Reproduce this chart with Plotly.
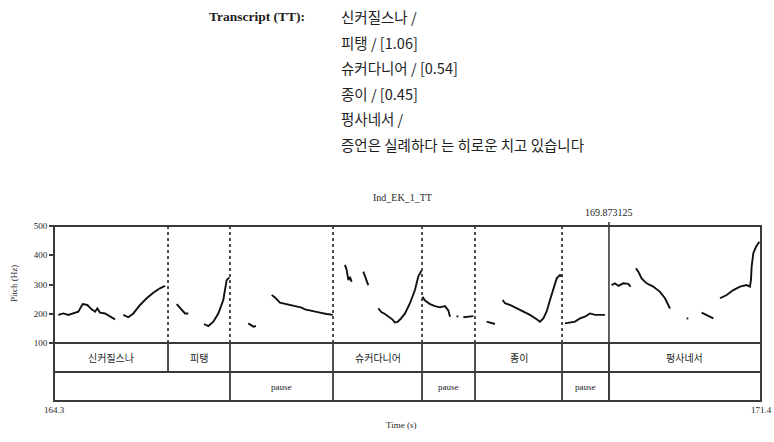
import plotly.graph_objects as go

# ---- time span and cursor -------------------------------------------------
T_START, T_END = 164.3, 171.4
CURSOR = 169.873125

# ---- pitch track (s, Hz); None marks unvoiced gaps ------------------------
pitch_time = [
    164.343, 164.394, 164.444, 164.494, 164.544, 164.588, 164.635, 164.678, 164.712,
    164.735, 164.762, 164.812, 164.862, 164.913, None,
    164.996, 165.046, 165.097, 165.164, 165.231, 165.297, 165.364, 165.415, None,
    165.532, 165.582, 165.616, 165.649, None,
    165.806, 165.850, 165.900, 165.950, 166.000, 166.034, 166.061, None,
    166.251, 166.302, 166.328, None,
    166.486, 166.519, 166.569, 166.636, 166.670, 166.703, 166.753, 166.787, 166.820,
    166.887, 166.971, 167.038, 167.100, None,
    167.222, 167.239, 167.256, 167.272, 167.289, None,
    167.406, 167.439, 167.456, None,
    167.557, 167.590, 167.620, 167.660, 167.700, 167.724, 167.750, 167.780, 167.825,
    167.875, 167.925, 167.958, 167.975, 167.990, None,
    168.000, 168.026, 168.076, 168.126, 168.176, 168.226, 168.260, 168.277, None,
    168.343, 168.360, None,
    168.411, 168.461, 168.511, None,
    168.645, 168.695, 168.728, None,
    168.805, 168.829, 168.879, 168.946, 169.013, 169.080, 169.147, 169.180, 169.214,
    169.247, 169.281, 169.314, 169.348, 169.381, 169.398, None,
    169.431, 169.482, 169.532, 169.582, 169.632, 169.682, 169.733, 169.783, 169.833, None,
    169.900, 169.933, 169.967, 170.017, 170.067, 170.091, None,
    170.144, 170.168, 170.201, 170.251, 170.318, 170.385, 170.436, 170.486, None,
    170.653, 170.670, None,
    170.804, 170.854, 170.921, None,
    170.988, 171.055, 171.122, 171.189, 171.256, 171.289, 171.299, 171.306, 171.323,
    171.350, 171.383,
]
pitch_hz = [
    196, 201, 196, 201, 207, 233, 230, 215, 207,
    218, 204, 201, 192, 181, None,
    196, 188, 201, 230, 253, 272, 287, 295, None,
    233, 213, 201, 201, None,
    165, 158, 173, 201, 247, 315, 324, None,
    167, 156, 158, None,
    264, 256, 238, 233, 230, 226, 222, 221, 215,
    209, 204, 199, 196, None,
    367, 350, 315, 326, 309, None,
    344, 315, 298, None,
    218, 205, 200, 190, 180, 170, 172, 182, 201,
    236, 281, 327, 338, 347, None,
    258, 245, 233, 226, 222, 226, 211, 190, None,
    192, 190, None,
    188, 190, 192, None,
    173, 167, 165, None,
    247, 236, 230, 218, 207, 196, 181, 173, 184,
    207, 247, 281, 321, 332, 327, None,
    167, 169, 173, 184, 190, 201, 196, 196, 196, None,
    298, 304, 295, 304, 302, 293, None,
    355, 344, 321, 304, 293, 275, 253, 218, None,
    184, 184, None,
    204, 196, 184, None,
    253, 264, 281, 293, 298, 293, 315, 361, 407,
    429, 446,
]

# ---- annotation tiers -----------------------------------------------------
word_bounds = [164.3, 165.445, 166.067, 167.102, 167.996, 168.528, 169.402, CURSOR, 171.4]
word_labels = ["신커질스나", "피탱", "", "슈커다니어", "", "종이", "", "펑사네서"]
pause_bounds = [164.3, 166.067, 167.102, 167.996, 168.528, 169.402, CURSOR, 171.4]
pause_labels = ["", "pause", "", "pause", "", "pause", ""]

# ---- transcript block -----------------------------------------------------
transcript_head = "Transcript (TT):"
transcript_lines = [
    "신커질스나 /",
    "피탱 / [1.06]",
    "슈커다니어 / [0.54]",
    "종이 / [0.45]",
    "펑사네서 /",
    "증언은 실례하다 는 히로운 치고 있습니다",
]

y_ticks = [100, 200, 300, 400, 500]
chart_title = "Ind_EK_1_TT"

# ---- page geometry (pixels) ------------------------------------------------
W, H = 774, 442
L, R, T, B = 54, 13, 226, 41
PLOT_W = W - L - R
PLOT_H = H - T - B
PITCH_H = 117
split = (PLOT_H - PITCH_H) / PLOT_H


def px(x):
    return (x - L) / PLOT_W


def py(y):
    return (H - B - y) / PLOT_H


SERIF = "Liberation Serif, Noto Sans CJK KR, serif"
KR = "Noto Sans CJK KR, sans-serif"
INK = "#1e1e1e"
FRAME = "#3a3a3a"


def label(x, y, text, font, xref="paper", yref="paper", xanchor="center", **kw):
    return dict(x=x, y=y, xref=xref, yref=yref, text=text, showarrow=False,
                xanchor=xanchor, yanchor="middle", font=font, **kw)


fig = go.Figure()
fig.add_trace(go.Scatter(
    x=pitch_time, y=pitch_hz, mode="lines", connectgaps=False,
    line=dict(color="#111111", width=1.9), hoverinfo="skip", showlegend=False,
))

shapes = []
# dotted boundary lines in the pitch panel
for t in word_bounds[1:-2]:
    shapes.append(dict(type="line", xref="x", yref="y", x0=t, x1=t, y0=100, y1=500,
                       line=dict(color="#222", width=1.6, dash="dot")))
# cursor line
shapes.append(dict(type="line", xref="x", yref="paper", x0=CURSOR, x1=CURSOR,
                   y0=0, y1=py(222), line=dict(color=FRAME, width=1.6)))
# tier boundaries
for t in word_bounds[1:-1]:
    shapes.append(dict(type="line", xref="x", yref="paper", x0=t, x1=t,
                       y0=split / 2, y1=split, line=dict(color=FRAME, width=1.8)))
for t in pause_bounds[1:-1]:
    shapes.append(dict(type="line", xref="x", yref="paper", x0=t, x1=t,
                       y0=0, y1=split / 2, line=dict(color=FRAME, width=1.8)))
# horizontal dividers and frame
for yy in (split, split / 2):
    shapes.append(dict(type="line", xref="paper", yref="paper", x0=0, x1=1, y0=yy, y1=yy,
                       line=dict(color=FRAME, width=1.8)))
shapes.append(dict(type="rect", xref="paper", yref="paper", x0=0, x1=1, y0=0, y1=1,
                   line=dict(color=FRAME, width=2)))

ann = []
# tier labels
for i, lab in enumerate(word_labels):
    if lab:
        ann.append(label((word_bounds[i] + word_bounds[i + 1]) / 2, split * 0.75, lab,
                         dict(family=KR, size=10, color=INK), xref="x"))
for i, lab in enumerate(pause_labels):
    if lab:
        ann.append(label((pause_bounds[i] + pause_bounds[i + 1]) / 2, split * 0.25, lab,
                         dict(family=SERIF, size=9, color=INK), xref="x"))

small = dict(family=SERIF, size=9, color=INK)
# corner times, axis titles, chart title, cursor value
ann += [
    label(0, py(410), f"{T_START}", small),
    label(1, py(410), f"{T_END}", small),
    label(px(401), py(425), "Time (s)", small),
    label(px(14), py(284), "Pitch (Hz)", small, textangle=-90),
    label(px(402), py(197), chart_title, dict(family=SERIF, size=10, color=INK)),
    label(CURSOR, py(212), f"{CURSOR}", dict(family=SERIF, size=10, color=INK), xref="x"),
    label(px(207), py(17), f"<b>{transcript_head}</b>",
          dict(family=SERIF, size=13.5, color=INK), xanchor="left"),
]
for k, line in enumerate(transcript_lines):
    ann.append(label(px(339), py(17 + 25.4 * k), line,
                     dict(family=KR, size=14.5, color=INK), xanchor="left"))

fig.update_layout(
    width=W, height=H,
    margin=dict(l=L, r=R, t=T, b=B),
    paper_bgcolor="white", plot_bgcolor="white",
    showlegend=False,
    xaxis=dict(range=[T_START, T_END], showgrid=False, zeroline=False,
               showticklabels=False, ticks="", showline=False, fixedrange=True),
    yaxis=dict(domain=[split, 1], range=[100, 500], tickvals=y_ticks,
               ticktext=[str(v) for v in y_ticks], ticks="outside", ticklen=4,
               tickcolor=FRAME, tickwidth=1.5, showgrid=False, zeroline=False,
               showline=False, tickfont=dict(family=SERIF, size=9, color=INK),
               fixedrange=True),
    shapes=shapes,
    annotations=ann,
)

fig.write_html("out.html")
